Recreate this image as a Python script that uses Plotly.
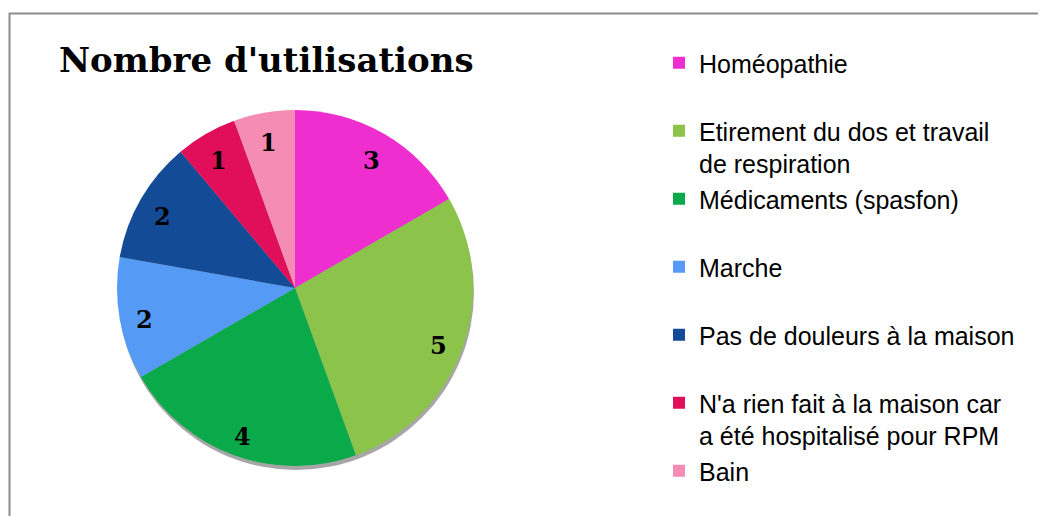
import math
import textwrap
import plotly.graph_objects as go

# ---- data ----
categories = [
    "Homéopathie",
    "Etirement du dos et travail de respiration",
    "Médicaments (spasfon)",
    "Marche",
    "Pas de douleurs à la maison",
    "N'a rien fait à la maison car a été hospitalisé pour RPM",
    "Bain",
]
values = [3, 5, 4, 2, 2, 1, 1]
colors = ["#EE2ECF", "#8CC34B", "#0AAA4B", "#559BF5", "#144B96", "#E10F5A", "#F58CB4"]
title_text = "Nombre d'utilisations"

# ---- layout constants (page pixels; the page body has an 8px margin) ----
OFF = 8
W, H = 1046 - OFF, 516 - OFF
cx, cy, R = 295, 288, 178  # pie centre / radius in page px


def xp(px):
    return (px - OFF) / W


def yp(py):
    return 1 - (py - OFF) / H


def legend_label(s, pad):
    lines = textwrap.wrap(s, 29)
    while pad and len(lines) < 2:
        lines.append(" ")
    return "<br>".join(lines)


labels_disp = [legend_label(c, i < len(categories) - 1) for i, c in enumerate(categories)]

fig = go.Figure()
fig.add_trace(go.Pie(
    labels=labels_disp,
    values=values,
    sort=False,
    direction="clockwise",
    rotation=0,
    marker=dict(colors=colors, line=dict(width=0)),
    textinfo="none",
    hoverinfo="label+value",
    domain=dict(x=[xp(cx - R), xp(cx + R)], y=[yp(cy + R), yp(cy - R)]),
))

# value labels placed at each slice's mid-angle
total = sum(values)
annotations = []
cum = 0
for v in values:
    mid = (cum + v / 2) / total * 2 * math.pi
    cum += v
    rr = 0.86 * R
    px = cx + rr * math.sin(mid)
    py = cy - rr * math.cos(mid)
    annotations.append(dict(
        x=xp(px), y=yp(py), xref="paper", yref="paper",
        xanchor="center", yanchor="middle", yshift=-5,
        text=f"<b>{v}</b>", showarrow=False,
        font=dict(family="DejaVu Serif", size=24, color="black"),
    ))

annotations.append(dict(
    x=xp(266), y=yp(60), xref="paper", yref="paper",
    text=f"<b>{title_text}</b>", showarrow=False,
    font=dict(family="DejaVu Serif", size=34, color="black"),
    xanchor="center", yanchor="middle",
))

fig.update_layout(
    width=W, height=H,
    margin=dict(l=0, r=0, t=0, b=0),
    paper_bgcolor="white",
    plot_bgcolor="white",
    showlegend=True,
    legend=dict(
        x=xp(699 - 40), xanchor="left",
        y=yp(40), yanchor="top",
        valign="top",
        font=dict(family="Liberation Sans", size=25, color="black"),
        bgcolor="rgba(0,0,0,0)",
    ),
    annotations=annotations,
    shapes=[
        dict(
            type="rect", xref="paper", yref="paper",
            x0=xp(9.5), y0=yp(13.5), x1=1.2, y1=-0.2,
            line=dict(color="#8C8C8C", width=2), fillcolor="rgba(0,0,0,0)",
            layer="below",
        ),
        dict(
            type="circle", xref="paper", yref="paper",
            x0=xp(cx - R + 1), x1=xp(cx + R + 1), y0=yp(cy + R + 4), y1=yp(cy - R + 4),
            line=dict(width=0), fillcolor="rgba(0,0,0,0.35)",
            layer="below",
        ),
    ],
)

fig.write_html("out.html")
